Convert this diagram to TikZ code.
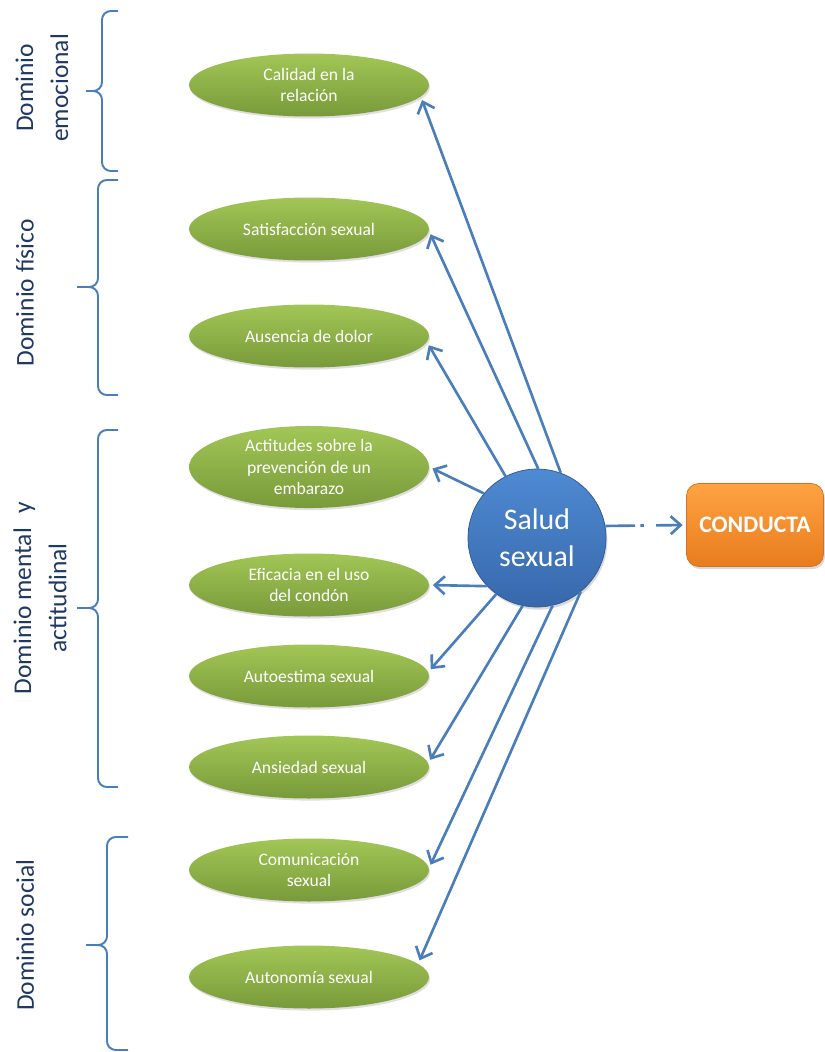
\documentclass[tikz,border=0pt]{standalone}
\usepackage{fontspec}
\setmainfont{Carlito}
\usepackage{tikz}
\usetikzlibrary{arrows.meta,positioning,shapes.geometric,shadows}

\definecolor{linkblue}{RGB}{74,126,187}
\definecolor{navytext}{RGB}{31,56,100}
\definecolor{greentop}{RGB}{162,198,86}
\definecolor{greenbot}{RGB}{120,154,58}
\definecolor{bluetop}{RGB}{78,138,210}
\definecolor{bluebot}{RGB}{56,104,172}
\definecolor{blueedge}{RGB}{47,88,145}
\definecolor{orangetop}{RGB}{255,163,66}
\definecolor{orangebot}{RGB}{232,124,30}
\definecolor{orangeedge}{RGB}{214,112,26}

\begin{document}
\begin{tikzpicture}[
    x=0.02cm, y=-0.02cm,
    factor/.style={ellipse, minimum width=4.8cm, minimum height=1.26cm, inner sep=1pt, align=center, text=white, font=\fontsize{10}{12}\selectfont, top color=greentop, bottom color=greenbot, drop shadow={opacity=0.25, shadow xshift=0.6pt, shadow yshift=-1.2pt}},
    core/.style={circle, minimum size=2.76cm, inner sep=0pt, align=center, text=white, font=\fontsize{17}{21}\selectfont, top color=bluetop, bottom color=bluebot, draw=blueedge, thin, drop shadow={opacity=0.3, shadow xshift=0.8pt, shadow yshift=-1.5pt}},
    outcome/.style={rectangle, rounded corners=7pt, minimum width=2.74cm, minimum height=1.66cm, text=white, font=\fontsize{13.5}{16}\selectfont\bfseries, top color=orangetop, bottom color=orangebot, draw=orangeedge, thin, drop shadow={opacity=0.3, shadow xshift=0.8pt, shadow yshift=-1.5pt}},
    link/.style={-{Straight Barb[length=2mm,width=3.6mm]}, line width=1.5pt, linkblue, shorten >=2pt},
    domainlabel/.style={rotate=90, align=center, text=navytext, font=\fontsize{14.5}{20}\selectfont},
    bracket/.style={linkblue, line width=1.1pt, rounded corners=5pt}
]
\useasboundingbox (0,0) rectangle (825,1052);

% Domain labels and brackets
\node[domainlabel] (emoc) at (42,88) {Dominio\\emocional};
\node[domainlabel] (fisico) at (25,293) {Dominio físico};
\node[domainlabel] (mental) at (40,598) {Dominio mental\hspace{0.35em} y\\actitudinal};
\node[domainlabel] (social) at (25,935) {Dominio social};

\draw[bracket] (118,11) -- (102,11) -- (102,91) -- (86,91);
\draw[bracket] (118,171) -- (102,171) -- (102,91) -- (86,91);
\draw[bracket] (118,180) -- (98,180) -- (98,287) -- (77,287);
\draw[bracket] (118,395) -- (98,395) -- (98,287) -- (77,287);
\draw[bracket] (118,430) -- (98,430) -- (98,608) -- (77,608);
\draw[bracket] (118,787) -- (98,787) -- (98,608) -- (77,608);
\draw[bracket] (128,837) -- (107,837) -- (107,945) -- (86,945);
\draw[bracket] (128,1050) -- (107,1050) -- (107,945) -- (86,945);

% Factors
\node[factor] (cal) at (309,85) {Calidad en la\\relación};
\node[factor] (sat) at (309,229) {Satisfacción sexual};
\node[factor] (aus) at (309,336) {Ausencia de dolor};
\node[factor] (act) at (309,467) {Actitudes sobre la\\prevención de un\\embarazo};
\node[factor] (efi) at (309,585) {Eficacia en el uso\\del condón};
\node[factor] (aut) at (309,676) {Autoestima sexual};
\node[factor] (ans) at (309,767) {Ansiedad sexual};
\node[factor] (com) at (309,870) {Comunicación\\sexual};
\node[factor] (ato) at (309,977) {Autonomía sexual};

% Centre and outcome
\node[core] (salud) at (537,538) {Salud\\sexual};
\node[outcome] (conducta) at (755,525) {CONDUCTA};

% Arrows
\draw[link] (salud.70) -- (cal.-6);
\draw[link] (salud.89) -- (sat.-1.5);
\draw[link] (salud.117) -- (aus.-3.5);
\draw[link] (salud.140) -- (act.0);
\draw[link] (salud.224) -- (efi.0);
\draw[link] (salud.234) -- (aut.2);
\draw[link] (salud.258) -- (ans.2.5);
\draw[link] (salud.283) -- (com.1);
\draw[link] (salud.309) -- (ato.7);
\draw[link, dash pattern=on 17pt off 3pt on 2pt off 7pt] (salud.10) -- (conducta.west);
\end{tikzpicture}
\end{document}
